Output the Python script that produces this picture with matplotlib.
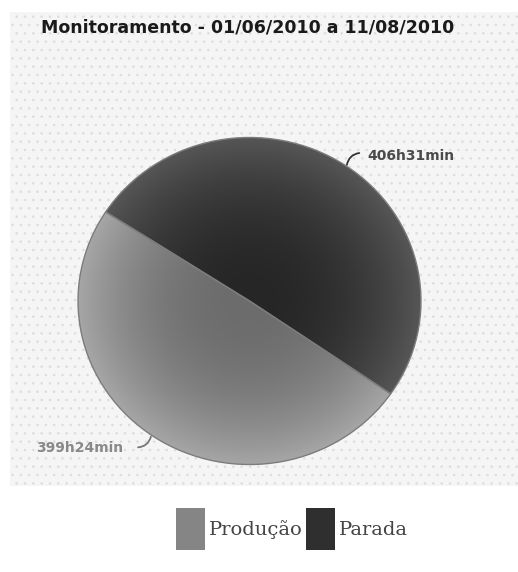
import numpy as np
import matplotlib
matplotlib.use('Agg')
import matplotlib.pyplot as plt
from matplotlib.patches import Rectangle, Patch

# dados
titulo = 'Monitoramento - 01/06/2010 a 11/08/2010'
categorias = ['Produção', 'Parada']
horas = [399 + 24 / 60.0, 406 + 31 / 60.0]
rotulos = ['399h24min', '406h31min']
cores_int = ['#6c6c6c', '#262626']
cores_ext = ['#a6a6a6', '#565656']
cores_leg = ['#858585', '#2f2f2f']

W, H = 518, 572
fig = plt.figure(figsize=(W / 100.0, H / 100.0), dpi=100)
fig.patch.set_facecolor('white')

## fundo pontilhado da area do grafico
matplotlib.rcParams['hatch.linewidth'] = 0.6
bg = Rectangle((10.0 / W, 1 - 486.0 / H), 1 - 10.0 / W, (486.0 - 12.0) / H,
               transform=fig.transFigure, facecolor='#f5f5f5',
               edgecolor='#dddddd', hatch='..', linewidth=0, zorder=-5)
fig.patches.append(bg)

fig.text(248.0 / W, 1 - 27.0 / H, titulo, ha='center', va='center',
         fontsize=12.5, fontweight='bold', color='#1a1a1a', family='DejaVu Sans')

## pizza (levemente eliptica como no original)
cx, cy, rx, ry = 249.5, 301.0, 172.0, 164.0
ax = fig.add_axes([(cx - rx) / W, 1 - (cy + ry) / H, 2 * rx / W, 2 * ry / H])
ax.set_zorder(2)
ax.axis('off')
ax.patch.set_alpha(0)

wedges, _ = ax.pie(horas, startangle=147, counterclock=True, radius=1.0,
                   colors=cores_ext,
                   wedgeprops=dict(linewidth=1.0, edgecolor='#7c7c7c'))
ax.set_aspect('auto')
ax.set_xlim(-1.003, 1.003)
ax.set_ylim(-1.003, 1.003)

## degradê radial em cada fatia
xx, yy = np.meshgrid(np.linspace(-1, 1, 300), np.linspace(-1, 1, 300))
rr = np.clip(np.sqrt(xx ** 2 + yy ** 2), 0, 1)
for w, ci, ce in zip(wedges, cores_int, cores_ext):
    a = np.array(matplotlib.colors.to_rgb(ci))
    b = np.array(matplotlib.colors.to_rgb(ce))
    t = (rr ** 2.2)[..., None]
    img = a * (1 - t) + b * t
    im = ax.imshow(img, extent=(-1, 1, -1, 1), origin='lower', zorder=1.5,
                   aspect='auto')
    im.set_clip_path(w)
for w in wedges:
    w.set_zorder(2)
    w.set_facecolor('none')

## rotulos com linha guia
ax.annotate('', xy=(0.568, 0.833), xytext=(0.64, 0.905), annotation_clip=False,
            arrowprops=dict(arrowstyle='-', color='#333333', lw=1.3,
                            shrinkA=0, shrinkB=0,
                            connectionstyle='arc3,rad=0.35'))
ax.text(0.689, 0.887, rotulos[1], fontsize=10, fontweight='bold',
        color='#4a4a4a', ha='left', va='center', family='DejaVu Sans')
ax.annotate('', xy=(-0.575, -0.83), xytext=(-0.65, -0.895), annotation_clip=False,
            arrowprops=dict(arrowstyle='-', color='#777777', lw=1.3,
                            shrinkA=0, shrinkB=0,
                            connectionstyle='arc3,rad=0.35'))
ax.text(-0.735, -0.896, rotulos[0], fontsize=10, fontweight='bold',
        color='#888888', ha='right', va='center', family='DejaVu Sans')

## legenda
handles = [Patch(facecolor=c, edgecolor='none') for c in cores_leg]
leg = fig.legend(handles, categorias, loc='center', ncol=2,
                 bbox_to_anchor=(292.0 / W, 1 - 529.0 / H), frameon=False,
                 prop={'family': 'DejaVu Serif', 'size': 14},
                 handlelength=1.5, handleheight=3.0, handletextpad=0.2,
                 columnspacing=0.2)
for t in leg.get_texts():
    t.set_color('#444444')

fig.savefig('out.png', dpi=100, facecolor='white')
